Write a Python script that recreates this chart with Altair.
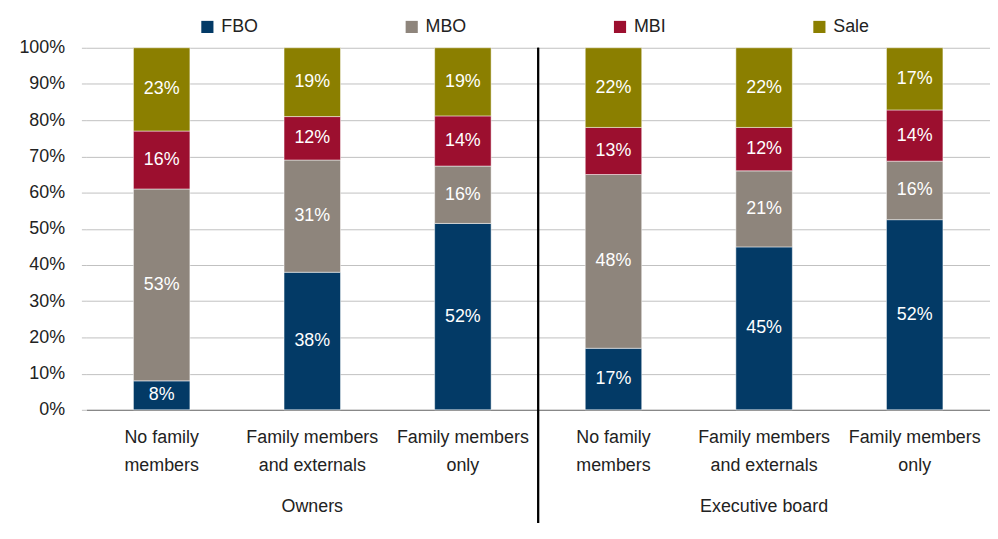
import altair as alt
import pandas as pd

groups = ["Owners", "Owners", "Owners", "Executive board", "Executive board", "Executive board"]
cat_lines = [
    ["No family", "members"],
    ["Family members", "and externals"],
    ["Family members", "only"],
    ["No family", "members"],
    ["Family members", "and externals"],
    ["Family members", "only"],
]
series = ["FBO", "MBO", "MBI", "Sale"]
colors = ["#033A66", "#8E857C", "#9C0F2F", "#8B7F00"]
fbo = [8, 38, 52, 17, 45, 52]
mbo = [53, 31, 16, 48, 21, 16]
mbi = [16, 12, 14, 13, 12, 14]
sale = [23, 19, 19, 22, 22, 17]
y_ticks = [0, 0.1, 0.2, 0.3, 0.4, 0.5, 0.6, 0.7, 0.8, 0.9, 1.0]

keys = [f"{i}|{a}|{b}" for i, (a, b) in enumerate(cat_lines)]
values = {"FBO": fbo, "MBO": mbo, "MBI": mbi, "Sale": sale}

rows = []
for s_i, s in enumerate(series):
    for k, v in zip(keys, values[s]):
        rows.append({"key": k, "series": s, "order": s_i, "value": v, "label": f"{v}%"})
df = pd.DataFrame(rows)

grp_df = pd.DataFrame({"key": [keys[1], keys[4]], "group": ["Owners", "Executive board"]})

W, H = 911, 365
FONT = "Liberation Sans"

xaxis = alt.Axis(
    title=None,
    labelAngle=0,
    labelExpr="slice(split(datum.value, '|'), 1)",
    labelFontSize=18,
    labelFont=FONT,
    labelColor="#222222",
    labelLineHeight=28,
    labelPadding=19,
    labelBaseline="top",
    ticks=False,
    domainColor="#888888",
    domainWidth=1.2,
    labelLimit=300,
)
xscale = alt.Scale(paddingInner=0.625, paddingOuter=0.3125)

yaxis = alt.Axis(
    title=None,
    format=".0%",
    values=y_ticks,
    labelOverlap=False,
    labelFontSize=18,
    labelFont=FONT,
    labelColor="#222222",
    labelPadding=17,
    tickSize=5,
    tickColor="#c0c0c0",
    domain=False,
    gridColor="#c0c0c0",
)
yscale = alt.Scale(domain=[0, 1])

base = alt.Chart(df).transform_stack(
    stack="value",
    groupby=["key"],
    as_=["y0", "y1"],
    offset="normalize",
    sort=[alt.SortField("order", order="ascending")],
).transform_calculate(mid="(datum.y0 + datum.y1) / 2")

bars = base.mark_bar(stroke="white", strokeWidth=0.5).encode(
    x=alt.X("key:N", sort=keys, scale=xscale, axis=xaxis),
    y=alt.Y("y0:Q", scale=yscale, axis=yaxis),
    y2="y1:Q",
    color=alt.Color(
        "series:N",
        scale=alt.Scale(domain=series, range=colors),
        legend=alt.Legend(
            title=None,
            orient="none",
            legendX=113,
            legendY=-30,
            direction="horizontal",
            symbolType="square",
            symbolSize=150,
            symbolStrokeWidth=0,
            labelFontSize=18,
            labelFont=FONT,
            labelColor="#222222",
            labelOffset=5,
            columnPadding=145,
        ),
    ),
)

texts = base.mark_text(color="white", fontSize=18, font=FONT, baseline="middle").encode(
    x=alt.X("key:N", sort=keys, scale=xscale, axis=xaxis),
    y=alt.Y("mid:Q", scale=yscale, axis=yaxis),
    text="label:N",
)

sep = alt.Chart(grp_df).mark_rule(color="black", strokeWidth=2).encode(
    x=alt.value(W / 2),
    y=alt.value(0),
    y2=alt.value(H + 160),
)

gtext = alt.Chart(grp_df).mark_text(fontSize=18, font=FONT, color="#222222", baseline="middle").encode(
    x=alt.X("key:N", sort=keys, scale=xscale, axis=xaxis),
    y=alt.value(H + 98),
    text="group:N",
)

chart = (
    alt.layer(bars, texts, sep, gtext)
    .properties(
        width=W,
        height=H,
        autosize=alt.AutoSizeParams(type="none"),
        padding={"left": 79, "top": 38, "right": 0, "bottom": 112},
    )
    .configure_view(stroke=None)
)

chart.save("out.html", embed_options={"renderer": "svg", "actions": False})
